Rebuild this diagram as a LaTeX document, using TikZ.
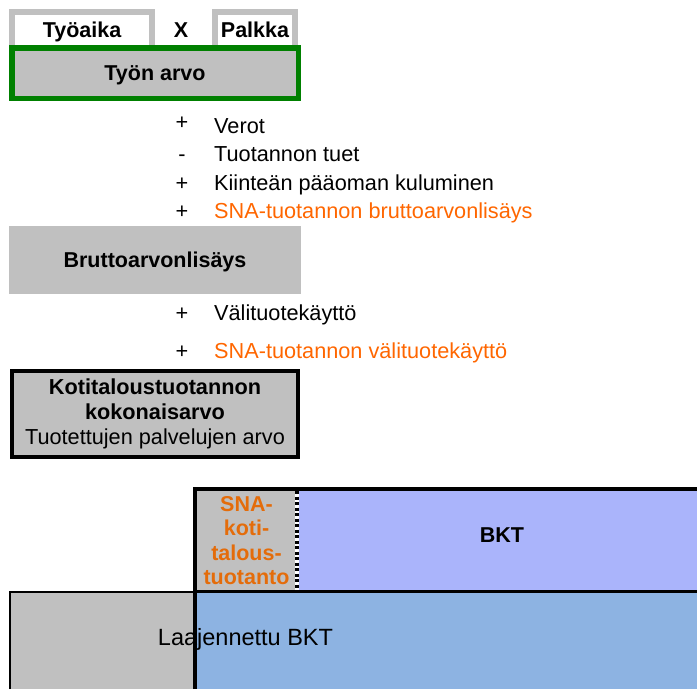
\documentclass[tikz,border=0pt]{standalone}
\usepackage{fontspec}
\setmainfont{Liberation Sans}
\definecolor{harmaa}{HTML}{C0C0C0}
\definecolor{vihrea}{HTML}{008000}
\definecolor{oranssi}{HTML}{FF6600}
\definecolor{snaoranssi}{HTML}{E46C0A}
\definecolor{bktsin}{HTML}{AAB4FB}
\definecolor{laajsin}{HTML}{8DB3E2}

\tikzset{
  kehys/.style={draw=harmaa, line width=6pt, fill=white, minimum height=36pt},
  otsikko/.style={font=\fontsize{21.5}{25}\selectfont\bfseries, text height=15.5pt, text depth=0pt},
  rivi/.style={anchor=base west},
  merkki/.style={anchor=base}
}

\begin{document}
\begin{tikzpicture}[x=1pt, y=-1pt, every node/.style={inner sep=0pt}, font=\fontsize{21.7}{25}\selectfont]
      \useasboundingbox (0,0) rectangle (697,689);

      % tyon arvo
      \node[kehys, otsikko, minimum width=140pt] (tyoaika) at (82,30) {Työaika};
      \node[kehys, otsikko, minimum width=80pt] (palkka) at (255,30) {Palkka};
      \node[otsikko] (kerto) at (181,30) {X};
      \node[otsikko, draw=vihrea, line width=5.5pt, fill=harmaa, minimum width=286.5pt, minimum height=50.5pt] (tyonarvo) at (155,73) {Työn arvo};

      \node[merkki] (p1) at (182,129) {+};
      \node[rivi] (verot) at (214,133) {Verot};
      \node[merkki] (p2) at (182,161) {-};
      \node[rivi] (tuet) at (214,161) {Tuotannon tuet};
      \node[merkki] (p3) at (182,190) {+};
      \node[rivi] (kulum) at (214,190) {Kiinteän pääoman kuluminen};
      \node[merkki] (p4) at (182,218) {+};
      \node[rivi, text=oranssi] (snabva) at (214,218) {SNA-tuotannon bruttoarvonlisäys};

      % bruttoarvonlisays
      \node[otsikko, fill=harmaa, minimum width=292pt, minimum height=68pt] (bva) at (155,260) {Bruttoarvonlisäys};

      \node[merkki] (p5) at (182,320) {+};
      \node[rivi] (valit) at (214,320) {Välituotekäyttö};
      \node[merkki] (p6) at (182,358) {+};
      \node[rivi, text=oranssi] (snavalit) at (214,358) {SNA-tuotannon välituotekäyttö};

      \node[draw, line width=4pt, fill=harmaa, minimum width=286pt, minimum height=86pt, align=center] (kotiarvo) at (155,414)
            {\textbf{Kotitaloustuotannon}\\\textbf{kokonaisarvo}\\Tuotettujen palvelujen arvo};

      % BKT ja laajennettu BKT
      \fill[bktsin] (195,489) rectangle (697,591);
      \fill[harmaa] (195,489) rectangle (297,591);
      \fill[harmaa] (9,591) rectangle (195,689);
      \fill[laajsin] (195,591) rectangle (697,689);
      \draw[line width=2pt] (10,689) -- (10,591.5) -- (195,591.5);
      \draw[line width=3pt] (195,591.5) -- (697,591.5);
      \draw[line width=4pt] (195,689) -- (195,489) -- (697,489);
      \draw[white, line width=3.5pt] (297,491) -- (297,590);
      \draw[line width=3.5pt, dash pattern=on 3pt off 2.5pt] (297,491) -- (297,590);

      \node[align=center, text=snaoranssi, font=\fontsize{21.5}{24.5}\selectfont\bfseries] (snakoti) at (246.5,540.5) {SNA-\\koti-\\talous-\\tuotanto};
      \node[otsikko] (bkt) at (502,535) {BKT};
      \node[anchor=base, font=\fontsize{23.5}{28}\selectfont] (laajbkt) at (245.5,645) {Laajennettu BKT};
\end{tikzpicture}
\end{document}
